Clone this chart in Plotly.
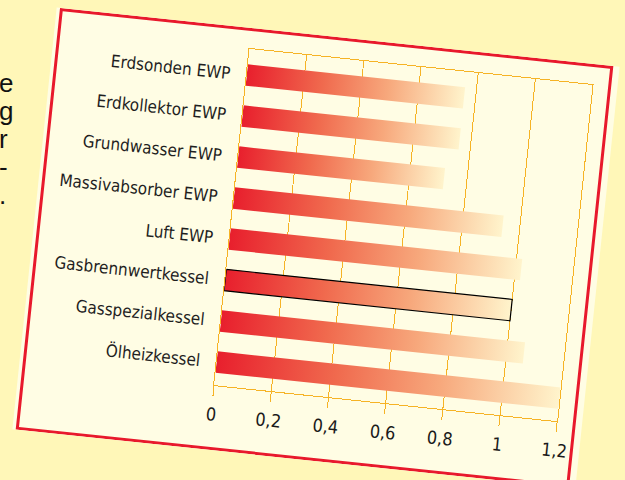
import plotly.graph_objects as go

# ---- data ----
categories = ["Erdsonden EWP", "Erdkollektor EWP", "Grundwasser EWP", "Massivabsorber EWP",
              "Luft EWP", "Gasbrennwertkessel", "Gasspezialkessel", "Ölheizkessel"]
values = [0.76, 0.76, 0.72, 0.94, 1.02, 1.00, 1.06, 1.20]
highlighted = "Gasbrennwertkessel"
x_tick_vals = [0, 0.2, 0.4, 0.6, 0.8, 1.0, 1.2]
x_tick_text = ["0", "0,2", "0,4", "0,6", "0,8", "1", "1,2"]
side_text = ["e", "g", "r", "-", "."]

# ---- style ----
W, H = 566, 424
ML, MR, MT, MB = 196, 19, 21, 65
CREAM = "#FFFDE4"
ORANGE = "#F6B325"
RED = "#E8192C"
HALF = 0.26
grad = [[0, "#E81F2D"], [0.35, "#F06A4E"], [0.65, "#F7A87C"], [1, "#FFF4CC"]]

fig = go.Figure()
for i, (cat, v) in enumerate(zip(categories, values)):
    outlined = cat == highlighted
    fig.add_trace(go.Scatter(
        x=[0, v, v, 0, 0],
        y=[i - HALF, i - HALF, i + HALF, i + HALF, i - HALF],
        mode="lines",
        fill="toself",
        fillgradient=dict(type="horizontal", colorscale=grad),
        line=dict(color="black" if outlined else "rgba(0,0,0,0)", width=1.2 if outlined else 0),
        name=cat,
        showlegend=False,
        hoverinfo="skip",
    ))

pw = W - ML - MR
ph = H - MT - MB
bx0 = (1.5 - ML) / pw
bx1 = (W - 1.5 - ML) / pw
by1 = (H - 1.5 - MB) / ph
by0 = (1.5 - MB) / ph

fig.update_layout(
    width=W, height=H,
    margin=dict(l=ML, r=MR, t=MT, b=MB, pad=0),
    paper_bgcolor=CREAM, plot_bgcolor=CREAM,
    separators=",.",
    font=dict(family="DejaVu Sans Condensed, DejaVu Sans, sans-serif", size=17, color="#1f1f1f"),
    xaxis=dict(range=[0, 1.2], tickvals=x_tick_vals, ticktext=x_tick_text,
               showgrid=True, gridcolor=ORANGE, gridwidth=1, zeroline=False,
               showline=True, linecolor=ORANGE, linewidth=1, mirror=True,
               ticks="outside", ticklen=10, tickcolor=ORANGE, tickwidth=1,
               ticklabelstandoff=3, tickfont=dict(size=18, color="#1a1a1a"), fixedrange=True),
    yaxis=dict(range=[7.563, -0.636], tickvals=list(range(len(categories))), ticktext=categories,
               showgrid=False, zeroline=False, showline=True, linecolor=ORANGE, linewidth=1,
               mirror=True, ticks="", ticklabelstandoff=12, fixedrange=True),
    shapes=[dict(type="rect", xref="paper", yref="paper", x0=bx0, x1=bx1, y0=by0, y1=by1,
                 line=dict(color=RED, width=3), fillcolor="rgba(0,0,0,0)", layer="above")],
)

baselines = [92, 120, 148, 176, 204]
side_js = ";".join(
    "mk('%s',%d)" % (ch, b - 19) for ch, b in zip(side_text, baselines)
)

post = """
var gd = document.getElementById('{plot_id}');
document.documentElement.style.overflow='hidden';
document.body.style.margin='0';
document.body.style.overflow='hidden';
document.body.style.background='#FFF7B8';
gd.style.position='absolute';
gd.style.left='32.65px';
gd.style.top='35.5px';
gd.style.transformOrigin='50% 50%';
gd.style.transform='rotate(6deg)';
function mk(ch, top){
  var t=document.createElement('div');
  t.style.cssText='position:absolute;left:-1px;top:'+top+'px;height:20px;font-family:"Liberation Sans",Arial,sans-serif;font-size:26px;line-height:20px;color:#111;';
  t.textContent=ch;
  document.body.insertBefore(t, document.body.firstChild);
}
""" + side_js + ";"

fig.write_html("out.html", config={"displayModeBar": False}, post_script=post)
